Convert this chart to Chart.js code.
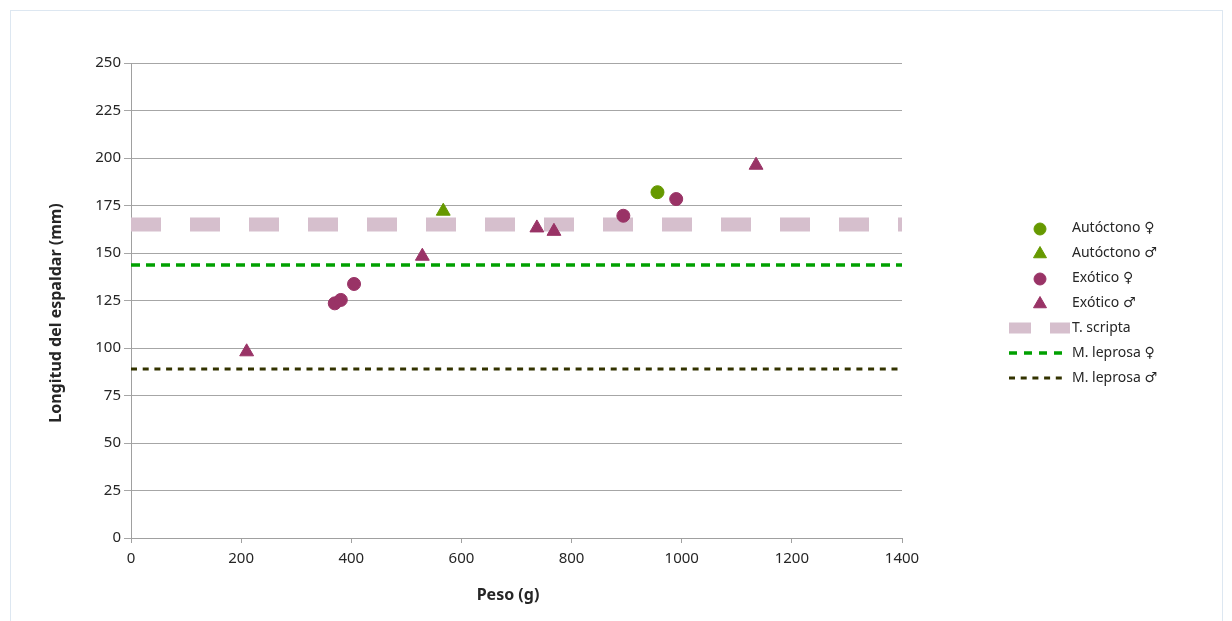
<!DOCTYPE html>
<html>
<head>
<meta charset="utf-8">
<script src="https://cdn.jsdelivr.net/npm/chart.js@4/dist/chart.umd.min.js"></script>
<style>
  body { margin: 0; background: #fff; }
  #frame { position: absolute; left: 10px; top: 10px; width: 1211px; height: 640px; border: 1px solid #dde7f1; }
  #wrap { position: absolute; left: 0; top: 0; width: 1232px; height: 621px; }
</style>
</head>
<body>
<div id="frame"></div>
<div id="wrap"><canvas id="chart" width="1232" height="621"></canvas></div>
<script>
// Datos (peso en g, longitud en mm)
const autoctonoHembra = [{ x: 956, y: 182 }];
const autoctonoMacho = [{ x: 567, y: 172 }];
const exoticoHembra = [
  { x: 370, y: 123.5 },
  { x: 381, y: 125.3 },
  { x: 405, y: 133.7 },
  { x: 894, y: 169.6 },
  { x: 990, y: 178.4 }
];
const exoticoMacho = [
  { x: 210, y: 98 },
  { x: 529, y: 148.3 },
  { x: 737, y: 163.2 },
  { x: 768, y: 161.4 },
  { x: 1135, y: 196.2 }
];
// Referencias horizontales
const tScripta = 165;
const mLeprosaHembra = 143.7;
const mLeprosaMacho = 89;
const xRange = [0, 1400];
const yTicks = [0, 250, 25];
const xTicks = [0, 1400, 200];
const xTitle = 'Peso (g)';
const yTitle = 'Longitud del espaldar (mm)';

const green = '#669900';
const purple = '#993366';
const textColor = '#262626';
const fontFamily = "'Noto Sans', 'DejaVu Sans', sans-serif";

function hline(value) {
  return xRange.map(x => ({ x: x, y: value }));
}

// Leyenda y titulos de ejes dibujados a mano
const legendPlugin = {
  id: 'sideLegend',
  afterDraw(chart) {
    const ctx = chart.ctx;
    const x0 = 1009, markX = 1040, textX = 1072;
    let y = 228;
    ctx.save();
    chart.data.datasets.forEach(ds => {
      if (ds.type === 'line') {
        ctx.beginPath();
        ctx.setLineDash(ds.legendDash);
        ctx.lineWidth = ds.legendWidth;
        ctx.strokeStyle = ds.borderColor;
        ctx.moveTo(x0, y);
        ctx.lineTo(ds.legendEnd, y);
        ctx.stroke();
        ctx.setLineDash([]);
      } else {
        ctx.fillStyle = ds.backgroundColor;
        ctx.strokeStyle = ds.borderColor;
        Chart.helpers.drawPoint(ctx, { pointStyle: ds.pointStyle, radius: ds.pointRadius - 0.5, borderWidth: 1 }, markX, y + 1);
      }
      ctx.fillStyle = textColor;
      ctx.font = '14px ' + fontFamily;
      ctx.textBaseline = 'middle';
      ctx.textAlign = 'left';
      ctx.fillText(ds.label, textX, y);
      y += 25;
    });

    // titulos
    ctx.font = 'bold 16px ' + fontFamily;
    ctx.textAlign = 'center';
    ctx.textBaseline = 'middle';
    ctx.fillText(xTitle, 508, 595);
    ctx.translate(56, 313);
    ctx.rotate(-Math.PI / 2);
    ctx.fillText(yTitle, 0, 0);
    ctx.restore();
  }
};

const ctx = document.getElementById('chart').getContext('2d');
const chart = new Chart(ctx, {
  data: {
    datasets: [
      { type: 'scatter', label: 'Autóctono ♀', data: autoctonoHembra, pointStyle: 'circle', pointRadius: 6.5, backgroundColor: green, borderColor: green, order: 1 },
      { type: 'scatter', label: 'Autóctono ♂', data: autoctonoMacho, pointStyle: 'triangle', pointRadius: 8, backgroundColor: green, borderColor: green, order: 1 },
      { type: 'scatter', label: 'Exótico ♀', data: exoticoHembra, pointStyle: 'circle', pointRadius: 6.5, backgroundColor: purple, borderColor: purple, order: 1 },
      { type: 'scatter', label: 'Exótico ♂', data: exoticoMacho, pointStyle: 'triangle', pointRadius: 8, backgroundColor: purple, borderColor: purple, order: 1 },
      { type: 'line', label: 'T. scripta', data: hline(tScripta), borderColor: '#d6bfcd', borderWidth: 14, borderDash: [30, 29], pointRadius: 0, order: 3,
        legendDash: [22, 19], legendWidth: 11, legendEnd: 1070 },
      { type: 'line', label: 'M. leprosa ♀', data: hline(mLeprosaHembra), borderColor: '#00a000', borderWidth: 3.5, borderDash: [9, 6], pointRadius: 0, order: 2,
        legendDash: [8, 7], legendWidth: 3.5, legendEnd: 1063 },
      { type: 'line', label: 'M. leprosa ♂', data: hline(mLeprosaMacho), borderColor: '#333300', borderWidth: 3, borderDash: [6, 5.7], pointRadius: 0, order: 2,
        legendDash: [6, 5.7], legendWidth: 3, legendEnd: 1063 }
    ]
  },
  options: {
    responsive: false,
    animation: false,
    devicePixelRatio: 1,
    layout: { padding: { left: 10, top: 63, right: 330, bottom: 10 } },
    plugins: { legend: { display: false }, tooltip: { enabled: false } },
    scales: {
      x: {
        type: 'linear',
        min: xTicks[0], max: xTicks[1],
        ticks: { stepSize: xTicks[2], color: textColor, font: { family: fontFamily, size: 15 }, padding: 7, callback: v => String(v) },
        grid: { drawOnChartArea: false, drawTicks: true, tickLength: 5, color: '#a0a0a0' },
        border: { color: '#a0a0a0' },
        afterFit(scale) { scale.height = 621 - 538 - 10; }
      },
      y: {
        min: yTicks[0], max: yTicks[1],
        ticks: { stepSize: yTicks[2], color: textColor, font: { family: fontFamily, size: 15 }, padding: 3 },
        grid: { color: '#a6a6a6', tickLength: 7 },
        border: { color: '#a0a0a0' },
        afterFit(scale) { scale.width = 131 - 10; }
      }
    }
  },
  plugins: [legendPlugin]
});
</script>
</body>
</html>
